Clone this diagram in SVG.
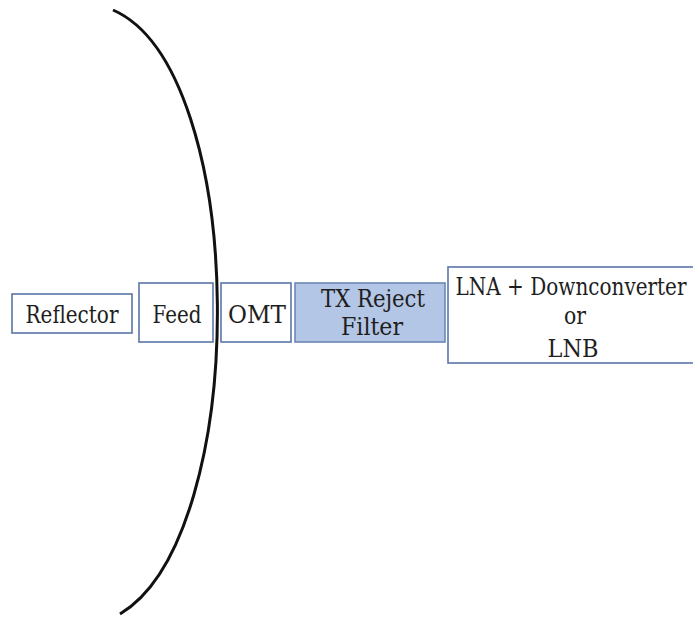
<svg xmlns="http://www.w3.org/2000/svg" width="693" height="619" viewBox="0 0 693 619">
<style>
.box{fill:#ffffff;stroke:#5b76a8;stroke-width:1.6}
.filt{fill:#b4c6e6;stroke:#6c86b6;stroke-width:1.6}
.t{font-family:'DejaVu Serif', serif;font-size:24px;fill:#1e1e1e;text-anchor:middle}
</style>
<rect width="693" height="619" fill="#ffffff"/>
<g id="reflector"><rect class="box" x="12" y="294" width="120" height="39"/><text class="t" x="72" y="323" textLength="93" lengthAdjust="spacingAndGlyphs">Reflector</text></g>
<g id="feed"><rect class="box" x="139" y="283" width="74" height="59"/><text class="t" x="177" y="323" textLength="49" lengthAdjust="spacingAndGlyphs">Feed</text></g>
<g id="omt"><rect class="box" x="221" y="283" width="70" height="59"/><text class="t" x="257" y="323" textLength="58" lengthAdjust="spacingAndGlyphs">OMT</text></g>
<g id="txfilter"><rect class="filt" x="295" y="283" width="150" height="59"/><text class="t" x="373" y="307" textLength="104" lengthAdjust="spacingAndGlyphs">TX Reject</text><text class="t" x="372" y="335" textLength="62" lengthAdjust="spacingAndGlyphs">Filter</text></g>
<g id="lnb"><rect class="box" x="448" y="267" width="260" height="96"/><text class="t" x="571" y="295" textLength="231" lengthAdjust="spacingAndGlyphs">LNA + Downconverter</text><text class="t" x="575" y="324" textLength="22" lengthAdjust="spacingAndGlyphs">or</text><text class="t" x="573" y="357" textLength="51" lengthAdjust="spacingAndGlyphs">LNB</text></g>
<g id="connectors"><path d="M113,10 C250,70 252,535 120,614" fill="none" stroke="#111" stroke-width="3"/></g>
</svg>
